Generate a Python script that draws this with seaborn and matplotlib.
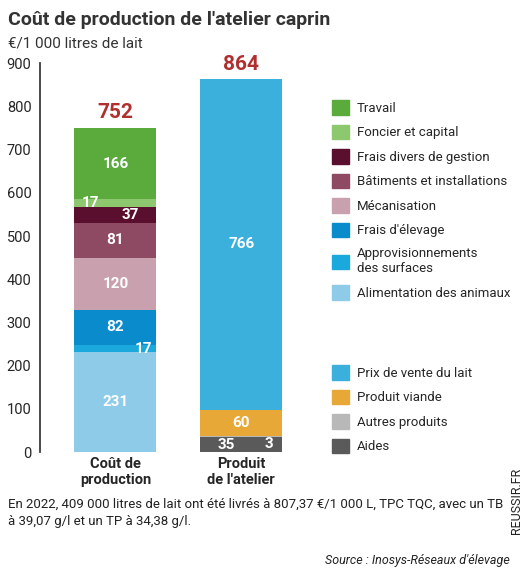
import matplotlib
matplotlib.use("Agg")
import matplotlib.pyplot as plt
import seaborn as sns
import numpy as np
import pandas as pd
from matplotlib.patches import Patch

sns.set_theme(style="white")
plt.rcParams['font.family'] = ['Roboto', 'DejaVu Sans']

categories = ["Coût de\nproduction", "Produit\nde l'atelier"]
cost_names = ["Alimentation des animaux", "Approvisionnements\ndes surfaces", "Frais d'élevage",
              "Mécanisation", "Bâtiments et installations", "Frais divers de gestion",
              "Foncier et capital", "Travail"]
cost_values = [231, 17, 82, 120, 81, 37, 17, 166]
cost_colors = ["#8dcbe8", "#1ba8dc", "#0a8ccc", "#c9a0ae", "#8e4a62", "#5b0f2e", "#8dc76e", "#5aab3c"]
prod_names = ["Aides", "Autres produits", "Produit viande", "Prix de vente du lait"]
prod_values = [35, 3, 60, 766]
prod_colors = ["#5a5a5a", "#b8b8b8", "#e8a838", "#3bb0dc"]
totals = [752, 864]
yticks = [0, 100, 200, 300, 400, 500, 600, 700, 800, 900]

fig = plt.figure(figsize=(5.31, 5.76), dpi=100)
ax = fig.add_axes([0.075, 0.215, 0.51, 0.675])

def stack(idx, vals, cols):
    cum = np.cumsum(vals)
    for i in range(len(vals) - 1, -1, -1):
        h = [0, 0]
        h[idx] = cum[i]
        df = pd.DataFrame({"cat": categories, "v": h})
        sns.barplot(data=df, x="cat", y="v", color=cols[i], ax=ax, width=0.65,
                    saturation=1, linewidth=0)
    return cum

c1 = stack(0, cost_values, cost_colors)
c2 = stack(1, prod_values, prod_colors)

offsets = {(0, 1): (0.22, None), (0, 5): (0.12, None), (0, 6): (-0.2, None),
           (1, 0): (-0.12, 17), (1, 1): (0.22, 18)}
for x, vals, cum in [(0, cost_values, c1), (1, prod_values, c2)]:
    for i, v in enumerate(vals):
        mid = cum[i] - v / 2
        xx = x
        if (x, i) in offsets:
            dx, yy = offsets[(x, i)]
            xx = x + dx
            if yy is not None:
                mid = yy
        ax.text(xx, mid, str(v), ha="center", va="center", color="white",
                fontsize=11, fontweight="bold")
for x, t in enumerate(totals):
    ax.text(x, t + 12, str(t), ha="center", va="bottom", color="#b03030",
            fontsize=15, fontweight="bold")

ax.set_ylim(0, 900)
ax.set_xlim(-0.6, 1.55)
ax.set_yticks(yticks)
ax.tick_params(axis="y", labelsize=10.5, length=0, pad=6)
ax.tick_params(axis="x", labelsize=10.5, length=0)
for lab in ax.get_xticklabels():
    lab.set_fontweight("bold")
ax.set_xlabel("")
ax.set_ylabel("")
for s in ["top", "right", "bottom"]:
    ax.spines[s].set_visible(False)
ax.spines["left"].set_color("#333333")
ax.spines["left"].set_bounds(0, 900)

h1 = [Patch(color=c, label=n) for n, c in zip(cost_names[::-1], cost_colors[::-1])]
h2 = [Patch(color=c, label=n) for n, c in zip(prod_names[::-1], prod_colors[::-1])]
kw = dict(frameon=False, fontsize=9.5, handlelength=1.3, handleheight=1.3,
          labelspacing=0.75, handletextpad=0.6, borderaxespad=0)
fig.legend(handles=h1, loc="upper left", bbox_to_anchor=(0.615, 0.835), **kw)
fig.legend(handles=h2, loc="upper left", bbox_to_anchor=(0.615, 0.375), **kw)

fig.text(0.015, 0.965, "Coût de production de l'atelier caprin", fontsize=14,
         fontweight="bold", color="#333333", va="center")
fig.text(0.015, 0.925, "€/1 000 litres de lait", fontsize=11, color="#333333", va="center")
fig.text(0.015, 0.11, "En 2022, 409 000 litres de lait ont été livrés à 807,37 €/1 000 L, TPC TQC, avec un TB\nà 39,07 g/l et un TP à 34,38 g/l.",
         fontsize=9.5, color="#222222", va="center", linespacing=1.4)
fig.text(0.96, 0.015, "Source : Inosys-Réseaux d'élevage", fontsize=9, style="italic",
         ha="right", va="bottom", color="#222222")
fig.text(0.985, 0.13, "REUSSIR.FR", fontsize=9, rotation=90, ha="right", va="center", color="#222222")

fig.savefig("out.png", dpi=100, facecolor="white")
